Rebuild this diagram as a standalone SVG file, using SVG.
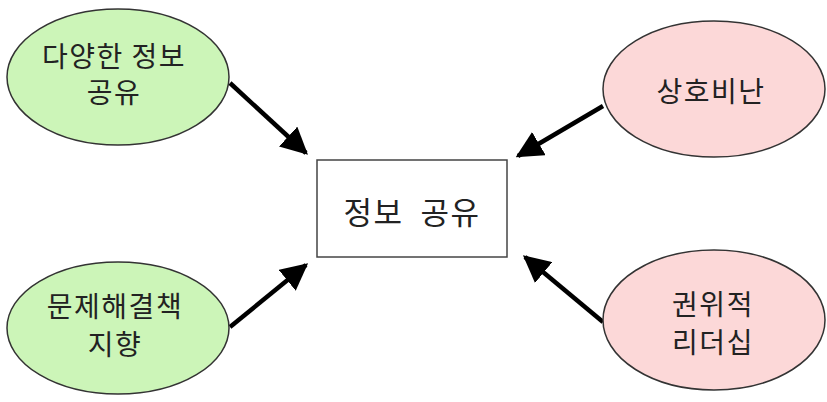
<svg xmlns="http://www.w3.org/2000/svg" width="827" height="402" viewBox="0 0 827 402">
<style>
.g{fill:#ccf5b8;stroke:#333;stroke-width:1.5}
.p{fill:#fcd8d8;stroke:#333;stroke-width:1.5}
.t{font-family:"Noto Sans CJK KR","Noto Sans",sans-serif;font-size:28px;letter-spacing:1.5px;fill:#222;text-anchor:middle}
.c{stroke:#000;stroke-width:4.5;fill:none;marker-end:url(#ah)}
</style>
<defs>
<marker id="ah" viewBox="0 0 10 10" refX="9" refY="5" markerWidth="6" markerHeight="6" markerUnits="strokeWidth" orient="auto">
<path d="M0,0 L10,5 L0,10 z" fill="#000"/>
</marker>
</defs>
<rect width="827" height="402" fill="#fff"/>
<g id="connectors">
<line class="c" x1="230" y1="83" x2="306" y2="153"/>
<line class="c" x1="603" y1="106" x2="518" y2="156"/>
<line class="c" x1="230" y1="327" x2="306" y2="265"/>
<line class="c" x1="603" y1="322" x2="525" y2="257"/>
</g>
<g id="center">
<rect x="317" y="160" width="190" height="97" fill="#fff" stroke="#444" stroke-width="1.5"/>
<text class="t" x="412" y="224" style="font-size:31px" xml:space="preserve">정보  공유</text>
</g>
<g id="n1">
<ellipse class="g" cx="118" cy="77" rx="111" ry="68"/>
<text class="t" x="114" y="67">다양한 정보</text>
<text class="t" x="114" y="103">공유</text>
</g>
<g id="n2">
<ellipse class="p" cx="714" cy="89" rx="111" ry="68"/>
<text class="t" x="711" y="102">상호비난</text>
</g>
<g id="n3">
<ellipse class="g" cx="118" cy="328" rx="111" ry="66"/>
<text class="t" x="115" y="317">문제해결책</text>
<text class="t" x="115" y="355">지향</text>
</g>
<g id="n4">
<ellipse class="p" cx="714" cy="320" rx="111" ry="70"/>
<text class="t" x="713" y="315">권위적</text>
<text class="t" x="713" y="353">리더십</text>
</g>
</svg>
